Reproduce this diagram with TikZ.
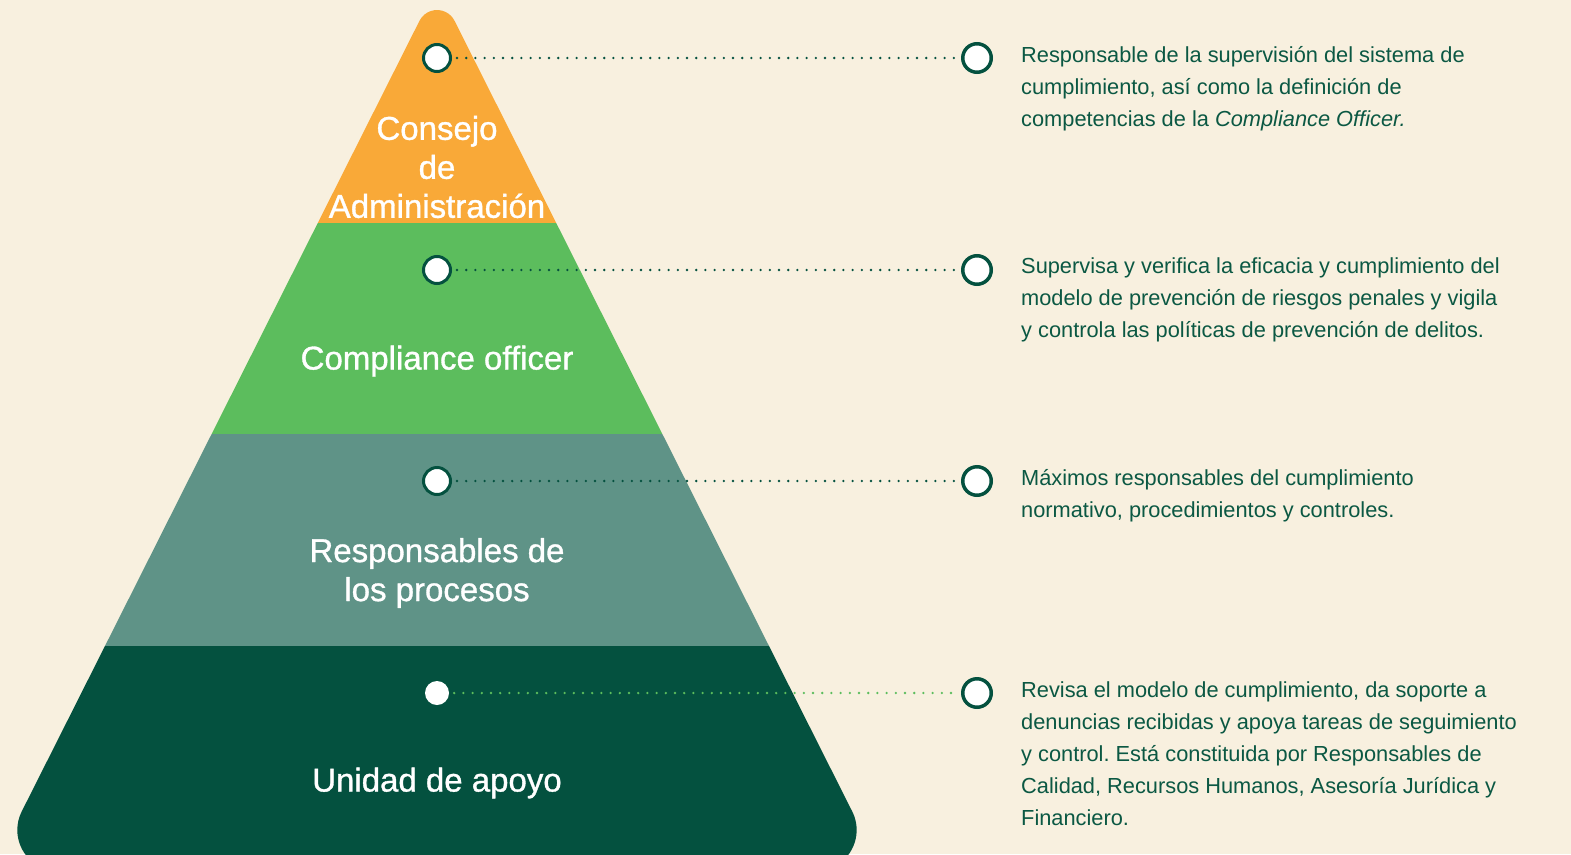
\documentclass[tikz,border=0pt]{standalone}
\usepackage{fontspec}
\setmainfont{Liberation Sans}
\newfontfamily\lblfont[FakeBold=1]{Liberation Sans}
\frenchspacing
\definecolor{bgc}{HTML}{F8F0DF}
\definecolor{orangec}{HTML}{F9A938}
\definecolor{greenc}{HTML}{5CBD5D}
\definecolor{tealc}{HTML}{5F9387}
\definecolor{darkc}{HTML}{04513F}
\definecolor{textc}{HTML}{0B5843}
\tikzset{
  lcirc/.style={circle, fill=white, draw=darkc, line width=3pt, minimum size=27pt, inner sep=0pt},
  lcircplain/.style={circle, fill=white, minimum size=24pt, inner sep=0pt},
  rcirc/.style={circle, fill=white, draw=darkc, line width=3.5pt, minimum size=28.5pt, inner sep=0pt},
  dotline/.style={draw=darkc, line width=2.6pt, line cap=round, dash pattern=on 0pt off 9.2pt, shorten <=5pt, shorten >=5pt},
  desc/.style={anchor=base west, inner sep=0pt, align=left, text=textc, font=\fontsize{21.8}{32}\selectfont},
  lbl/.style={text=white, align=center, inner sep=0pt, font=\lblfont\fontsize{33}{39}\selectfont}
}
\begin{document}
\begin{tikzpicture}[x=1pt,y=-1pt]
\useasboundingbox (0,0) rectangle (1571,854);
\fill[bgc] (0,0) rectangle (1571,854);
\begin{scope}
  \clip (58.3,871) arc[start angle=90, end angle=206.7, radius=41]
    -- (419.5,20.8) arc[start angle=206.7, end angle=333.3, radius=19.6]
    -- (852.3,811.6) arc[start angle=-26.7, end angle=90, radius=41] -- cycle;
  \fill[orangec] (-20,-20) rectangle (900,223);
  \fill[greenc] (-20,223) rectangle (900,434);
  \fill[tealc] (-20,434) rectangle (900,646);
  \fill[darkc] (-20,646) rectangle (900,900);
\end{scope}
% labels
\node[lbl] (l1) at (437,167) {Consejo\\de\\Administración};
\node[lbl] (l2) at (437,361) {Compliance officer};
\node[lbl] (l3) at (437,573) {Responsables de\\los procesos};
\node[lbl] (l4) at (437,783) {Unidad de apoyo};
% circles
\node[lcirc] (c1) at (437,58) {};
\node[lcirc] (c2) at (437,270) {};
\node[lcirc] (c3) at (437,481) {};
\node[lcircplain] (c4) at (437,693) {};
\node[rcirc] (d1) at (977,58) {};
\node[rcirc] (d2) at (977,270) {};
\node[rcirc] (d3) at (977,481) {};
\node[rcirc] (d4) at (977,693) {};
\draw[dotline] (c1) -- (d1);
\draw[dotline] (c2) -- (d2);
\draw[dotline] (c3) -- (d3);
\draw[dotline, draw=greenc] (c4) -- (d4);
% descriptions (anchored at the baseline of their last line)
\node[desc] (t1) at (1021,126) {Responsable de la supervisión del sistema de\\cumplimiento, así como la definición de\\competencias de la \textit{Compliance Officer.}};
\node[desc] (t2) at (1021,337) {Supervisa y verifica la eficacia y cumplimiento del\\modelo de prevención de riesgos penales y vigila\\y controla las políticas de prevención de delitos.};
\node[desc] (t3) at (1021,517) {Máximos responsables del cumplimiento\\normativo, procedimientos y controles.};
\node[desc] (t4) at (1021,825) {Revisa el modelo de cumplimiento, da soporte a\\denuncias recibidas y apoya tareas de seguimiento\\y control. Está constituida por Responsables de\\Calidad, Recursos Humanos, Asesoría Jurídica y\\Financiero.};
\end{tikzpicture}
\end{document}
